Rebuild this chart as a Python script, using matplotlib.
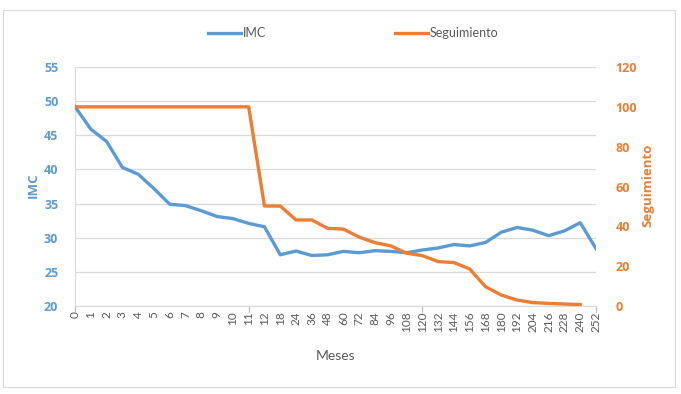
import numpy as np
import matplotlib.pyplot as plt
from matplotlib.patches import Rectangle
from matplotlib.lines import Line2D

plt.rcParams['font.family'] = ['Lato', 'DejaVu Sans']
negrita = ['Open Sans', 'DejaVu Sans']

# categorias del eje x (meses)
meses = ['0', '1', '2', '3', '4', '5', '6', '7', '8', '9', '10', '11', '12',
         '18', '24', '36', '48', '60', '72', '84', '96', '108', '120', '132',
         '144', '156', '168', '180', '192', '204', '216', '228', '240', '252']

imc = [49.2, 45.9, 44.1, 40.3, 39.3, 37.2, 34.9, 34.7, 33.95, 33.1, 32.8, 32.1,
       31.6, 27.5, 28.05, 27.4, 27.5, 28.0, 27.8, 28.1, 28.0, 27.8, 28.2, 28.5,
       29.0, 28.8, 29.3, 30.8, 31.5, 31.1, 30.3, 31.0, 32.2, 28.4]

seguimiento = [100, 100, 100, 100, 100, 100, 100, 100, 100, 100, 100, 100,
               50.2, 50.2, 43.2, 43.2, 39.0, 38.6, 34.6, 31.8, 30.2, 26.5, 25.3,
               22.3, 21.8, 18.6, 9.7, 5.5, 3.0, 1.7, 1.3, 1.0, 0.7]

azul = '#5B9BD5'
naranja = '#ED7D31'
gris = '#595959'

fig = plt.figure(figsize=(6.81, 3.94), dpi=100)
fig.patches.append(Rectangle((3 / 681, 1 - 387 / 394), 672 / 681, 377 / 394,
                             transform=fig.transFigure, fill=False,
                             edgecolor='#D9D9D9', linewidth=0.8))

ax = fig.add_axes([75 / 681, 1 - 306 / 394, 521 / 681, 239 / 394])
ax2 = ax.twinx()

x = np.arange(len(meses))
ax.plot(x, imc, color=azul, linewidth=2.4, solid_joinstyle='round', zorder=3)
ax2.plot(x[:len(seguimiento)], seguimiento, color=naranja, linewidth=2.4,
         solid_joinstyle='round', zorder=3)

ax.set_xlim(0, len(meses) - 1)
ax.set_ylim(20, 55)
ax.set_yticks(np.arange(20, 56, 5))
ax2.set_ylim(0, 120)
ax2.set_yticks(np.arange(0, 121, 20))

ax.grid(axis='y', color='#D9D9D9', linewidth=0.9)
ax.set_axisbelow(True)

ax.set_xticks(x)
ax.set_xticklabels(meses, rotation=90, fontsize=8.5, color=gris)
ax.tick_params(axis='x', length=0, pad=4)
# marcas del eje cada 11 categorias
for i in range(0, len(meses), 11):
    ax.plot([i, i], [0, -0.025], transform=ax.get_xaxis_transform(),
            color='#BFBFBF', linewidth=0.9, clip_on=False)

ax.tick_params(axis='y', length=0, pad=12, labelcolor=azul)
for t in ax.get_yticklabels():
    t.set_fontweight('bold')
    t.set_family(negrita)
    t.set_fontsize(9)
ax2.tick_params(axis='y', length=0, pad=14, labelcolor=naranja)
for t in ax2.get_yticklabels():
    t.set_fontweight('bold')
    t.set_family(negrita)
    t.set_fontsize(9)

for s in ['top', 'right']:
    ax.spines[s].set_visible(False)
for s in ['top', 'right', 'left', 'bottom']:
    ax2.spines[s].set_visible(False)
ax.spines['left'].set_color('#D9D9D9')
ax.spines['bottom'].set_color('#D9D9D9')

fig.text(33 / 681, 1 - 185 / 394, 'IMC', rotation=90, color=azul,
         fontsize=9.5, fontweight='bold', family=negrita,
         ha='center', va='center')
fig.text(648 / 681, 1 - 185 / 394, 'Seguimiento', rotation=90, color=naranja,
         fontsize=9.5, fontweight='bold', family=negrita,
         ha='center', va='center')
fig.text(336 / 681, 1 - 356 / 394, 'Meses', color=gris, fontsize=10,
         ha='center', va='center')

handles = [Line2D([], [], color=azul, linewidth=2.4),
           Line2D([], [], color=naranja, linewidth=2.4)]
fig.legend(handles, ['IMC', 'Seguimiento'], loc='center',
           bbox_to_anchor=(353 / 681, 1 - 33 / 394), ncol=2, frameon=False,
           fontsize=9, handlelength=2.7, handletextpad=0.1, columnspacing=10.3,
           labelcolor=gris)

fig.savefig('out.png', dpi=100)
